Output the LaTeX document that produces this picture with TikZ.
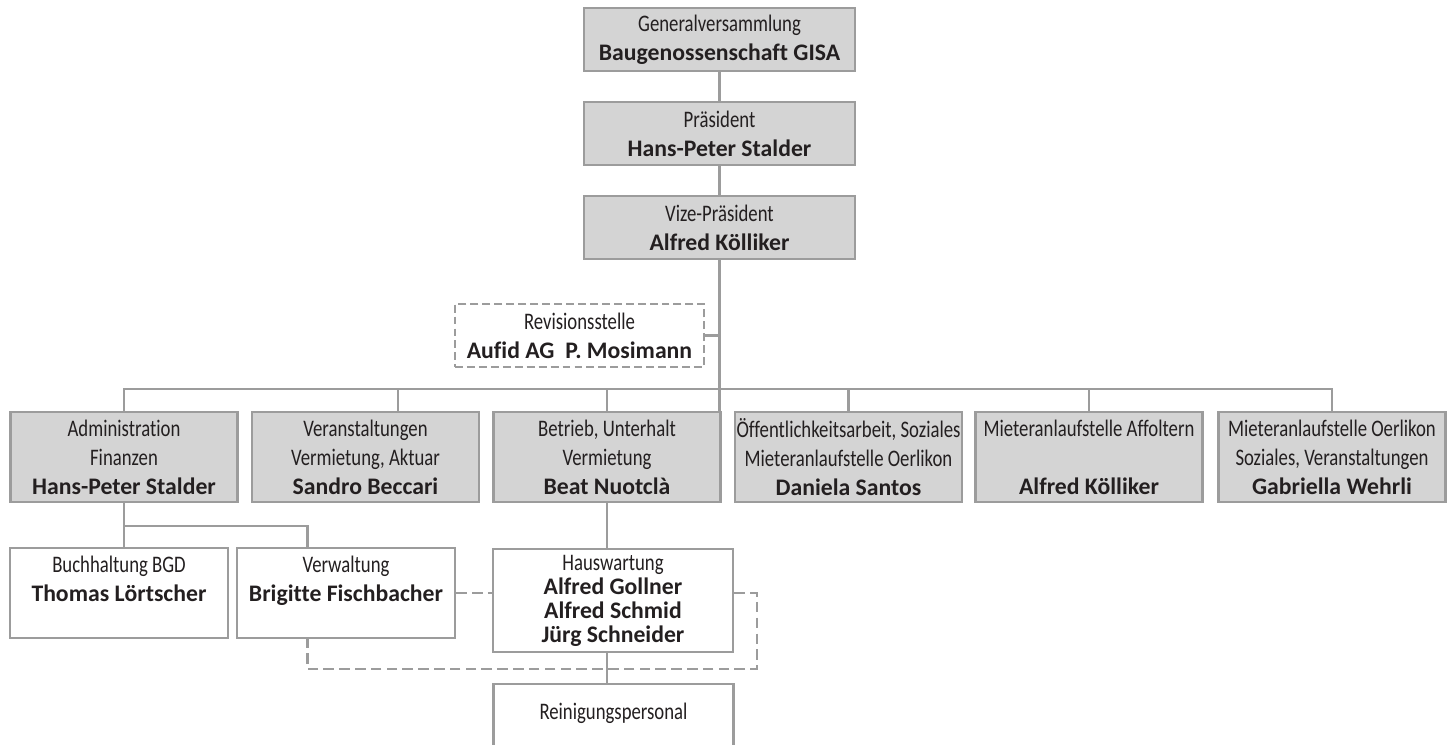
\documentclass[tikz,border=0pt]{standalone}
\usepackage{fontspec}
\setmainfont{Carlito}[Ligatures=NoCommon]
\newfontfamily\lightfont{Carlito}[FakeStretch=0.79, Ligatures=NoCommon]
\definecolor{boxgray}{HTML}{D4D4D4}
\definecolor{linegray}{HTML}{9C9C9C}
\definecolor{ink}{HTML}{231F20}
\newcommand\person[1]{{\normalfont\bfseries #1}}
\begin{document}
\begin{tikzpicture}[x=0.02cm,y=-0.02cm]
\tikzstyle{kasten}=[draw=linegray, line width=1.5pt, fill=boxgray, text=ink, align=center, inner sep=0,
  font=\lightfont\fontsize{13.5}{16.5}\selectfont]
\tikzstyle{oben}=[kasten, minimum width=5.42cm, minimum height=1.26cm]
\tikzstyle{stelle}=[kasten, minimum width=4.54cm, minimum height=1.8cm]
\tikzstyle{unten}=[kasten, fill=white, minimum width=4.36cm, minimum height=1.8cm]
\tikzstyle{linie}=[linegray, line width=1.2pt]
\tikzstyle{strich}=[linie, dash pattern=on 6pt off 3pt]
\useasboundingbox (0,0) rectangle (1454,744);
% Leitung
\node[oben] (gv) at (719.5,39.5) {Generalversammlung\\ \person{Baugenossenschaft GISA}};
\node[oben] (pres) at (719.5,133.5) {Präsident\\ \person{Hans-Peter Stalder}};
\node[oben] (vize) at (719.5,227.5) {Vize-Präsident\\ \person{Alfred Kölliker}};
\node[oben, fill=white, minimum width=4.98cm, dash pattern=on 4.5pt off 2.3pt] (rev) at (579.5,335.5)
  {Revisionsstelle\\ \person{Aufid AG~~P. Mosimann}};
% Ressorts
\node[stelle] (admin) at (124,457) {Administration\\ Finanzen\\ \person{Hans-Peter Stalder}};
\node[stelle] (veran) at (365.5,457) {Veranstaltungen\\ Vermietung, Aktuar\\ \person{Sandro Beccari}};
\node[stelle] (betrieb) at (607,457) {Betrieb, Unterhalt\\ Vermietung\\ \person{Beat Nuotclà}};
\node[stelle] (oeff) at (848.5,457) {Öffentlichkeitsarbeit, Soziales\\ Mieteranlaufstelle Oerlikon\\ \person{Daniela Santos}};
\node[stelle] (affol) at (1089,457) {Mieteranlaufstelle Affoltern\\ \mbox{}\\ \person{Alfred Kölliker}};
\node[stelle] (gab) at (1332,457) {Mieteranlaufstelle Oerlikon\\ Soziales, Veranstaltungen\\ \person{Gabriella Wehrli}};
% untere Ebene
\node[unten] (buch) at (119,593) {Buchhaltung BGD\\ \person{Thomas Lörtscher}\\ \mbox{}};
\node[unten] (verw) at (346,593) {Verwaltung\\ \person{Brigitte Fischbacher}\\ \mbox{}};
\node[unten, minimum width=4.8cm, minimum height=2.06cm, font=\lightfont\fontsize{13.5}{13.7}\selectfont] (hausw) at (613,600.5)
  {Hauswartung\\ \person{Alfred Gollner}\\ \person{Alfred Schmid}\\ \person{Jürg Schneider}};
\node[unten, minimum width=4.8cm, minimum height=2.24cm] (rein) at (613.5,740) {Reinigungspersonal\\ \mbox{}\\ \mbox{}};
\coordinate (bus) at (0,389);
\coordinate (vtick) at (398,389);
\coordinate (vwt) at (307.5,526);
\coordinate (schlaufe) at (757,669);
% Verbindungen
\draw[linie] (gv.south) -- (pres.north);
\draw[linie] (pres.south) -- (vize.north);
\draw[linie] (vize.south) -- (vize.south |- betrieb.north);
\draw[linie] (rev.east) -- (rev.east -| vize.south);
\draw[linie] (admin.north) -- (admin.north |- bus) -- (gab.north |- bus) -- (gab.north);
\foreach \n in {betrieb, oeff, affol}
\draw[linie] (\n.north) -- (\n.north |- bus);
\draw[linie] (vtick) -- (vtick |- veran.north);
\draw[linie] (admin.south) -- (admin.south |- buch.north);
\draw[linie] (admin.south |- vwt) -- (vwt) -- (vwt |- verw.north);
\draw[linie] (betrieb.south) -- (betrieb.south |- hausw.north);
\draw[linie] (betrieb.south |- hausw.south) -- (betrieb.south |- rein.north);
\draw[strich] (verw.east) -- (verw.east -| hausw.west);
\draw[strich] (verw.east -| hausw.east) -| (schlaufe) -| (vwt |- verw.south);
\end{tikzpicture}
\end{document}
